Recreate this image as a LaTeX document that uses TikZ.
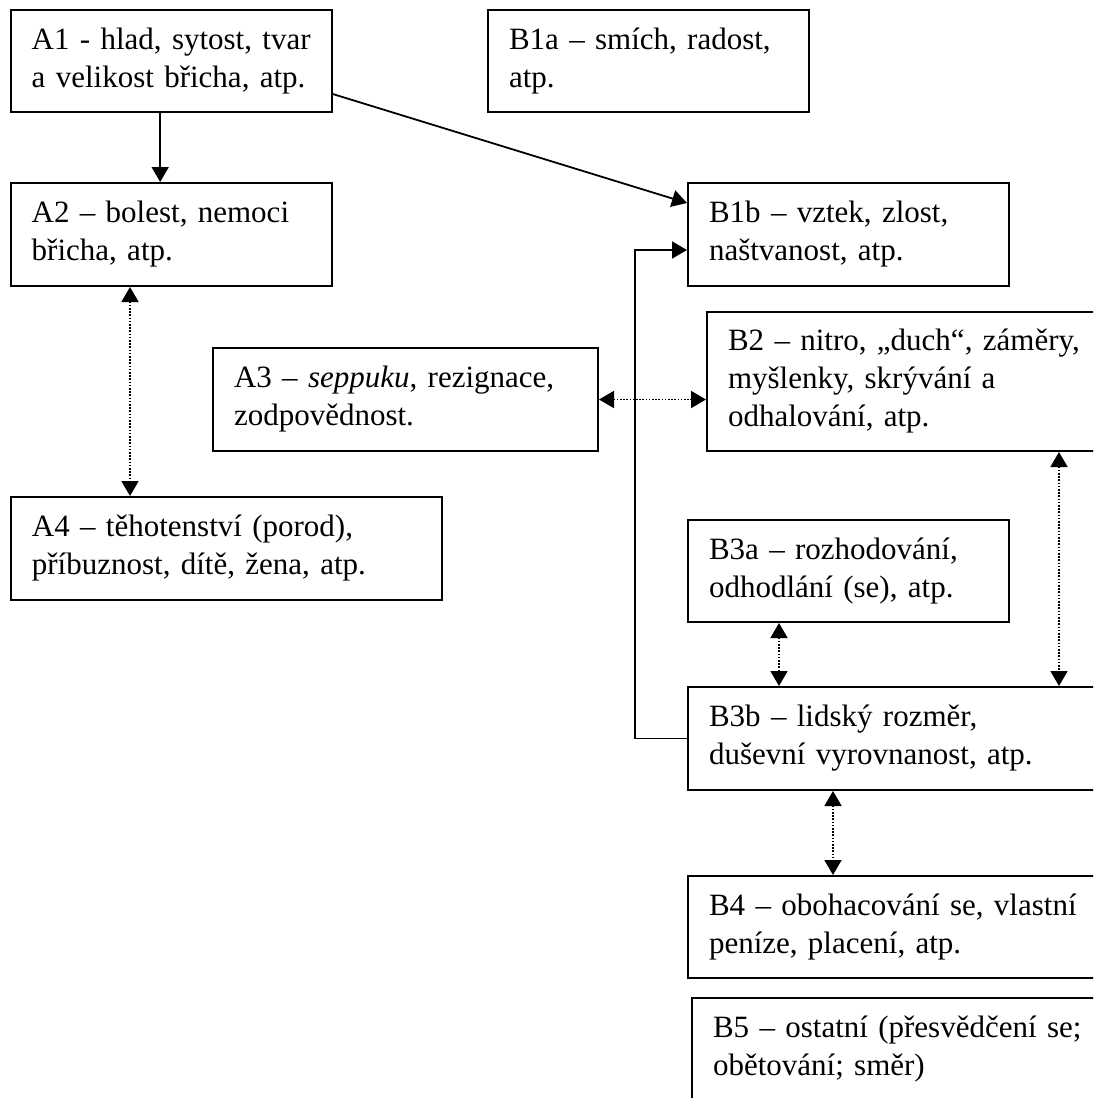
\documentclass[tikz,border=0pt]{standalone}
\usepackage{fontspec}
\setmainfont{Liberation Serif}
\usetikzlibrary{arrows.meta}

\tikzset{
  box/.style={draw, line width=1pt, align=left, inner xsep=10.5pt,
    font=\fontsize{15.5}{19}\selectfont},
  link/.style={line width=0.9pt, -{Triangle[length=7.5pt,width=8.5pt]}},
  dotlink/.style={line width=0.9pt, dash pattern=on 0.8pt off 0.8pt,
    {Triangle[length=7.5pt,width=8.5pt]}-{Triangle[length=7.5pt,width=8.5pt]}},
}

\begin{document}
\begin{tikzpicture}[x=0.5pt,y=0.5pt]
\useasboundingbox (0,0) rectangle (1093,-1098);
\clip (0,0) rectangle (1093,-1098);

\node[box,text width=139.5pt,minimum height=51pt] (A1) at (171.2,-61) {A1 - hlad, sytost, tvar\\a velikost břicha, atp.};
\node[box,text width=139.5pt,minimum height=51pt] (B1a) [right of=A1,node distance=238.65pt] {B1a – smích, radost,\\atp.};
\node[box,text width=139.5pt,minimum height=51.5pt] (A2) [below of=A1,node distance=86.75pt] {A2 – bolest, nemoci\\břicha, atp.};
\node[box,text width=139.5pt,minimum height=51.5pt] (B1b) [right of=A2,node distance=338.65pt] {B1b – vztek, zlost,\\naštvanost, atp.};
\node[box,text width=171.5pt,minimum height=51.5pt] (A3) at (405.5,-399.5) {A3 – \textit{seppuku}, rezignace,\\zodpovědnost.};
\node[box,text width=199pt,minimum height=69.5pt] (B2) at (927,-381.5) {B2 – nitro, „duch“, záměry,\\myšlenky, skrývání a\\odhalování, atp.};
\node[box,text width=194.5pt,minimum height=51.5pt] (A4) at (226.4,-548.5) {A4 – těhotenství (porod),\\příbuznost, dítě, žena, atp.};
\node[box,text width=139.5pt,minimum height=51pt] (B3a) [below of=B1b,node distance=168.25pt] {B3a – rozhodování,\\odhodlání (se), atp.};
\node[box,text width=199pt,minimum height=51.5pt] (B3b) at (908,-738.5) {B3b – lidský rozměr,\\duševní vyrovnanost, atp.};
\node[box,text width=199pt,minimum height=51pt] (B4) [below of=B3b,node distance=94.25pt] {B4 – obohacování se, vlastní\\peníze, placení, atp.};
\node[box,text width=199pt,minimum height=51.5pt] (B5) at (912,-1049.5) {B5 – ostatní (přesvědčení se;\\obětování; směr)};

\draw[link] ([xshift=-5.5pt]A1.south) -- ([xshift=-5.5pt]A2.north);
\draw[link] ([yshift=-16.5pt]A1.east) -- ([yshift=15.75pt]B1b.west);
\draw[link] (B3b.west) -- ++(-26pt,0) |- ([yshift=-7.75pt]B1b.west);

\draw[dotlink] ([xshift=-20.6pt]A2.south) -- ([xshift=-20.6pt]A2.south |- A4.north);
\draw[dotlink] (A3.east) -- (A3.east -| B2.west);
\draw[dotlink] ([xshift=176.5pt]B2.south west) -- ([xshift=176.5pt]B2.south west |- B3b.north);
\draw[dotlink] ([xshift=46pt]B3a.south west) -- ([xshift=46pt]B3a.south west |- B3b.north);
\draw[dotlink] ([xshift=73pt]B3b.south west) -- ([xshift=73pt]B3b.south west |- B4.north);
\end{tikzpicture}
\end{document}
